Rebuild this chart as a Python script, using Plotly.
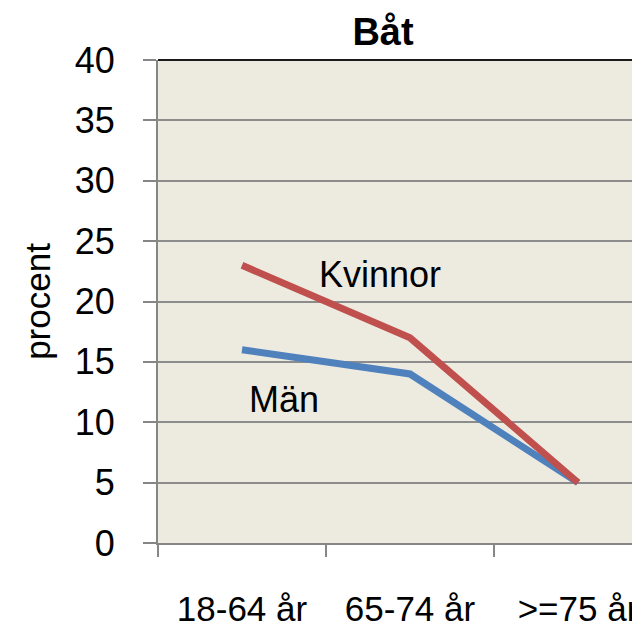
import plotly.graph_objects as go

# Data
kategorier = ["18-64 år", "65-74 år", ">=75 år"]
kvinnor = [23, 17, 5]
man = [16, 14, 5]
y_ticks = [0, 5, 10, 15, 20, 25, 30, 35, 40]

FONT = "Liberation Sans"

fig = go.Figure()
fig.add_trace(go.Scatter(x=kategorier, y=man, mode="lines", name="Män",
                         line=dict(color="#4F81BD", width=7), showlegend=False))
fig.add_trace(go.Scatter(x=kategorier, y=kvinnor, mode="lines", name="Kvinnor",
                         line=dict(color="#C0504D", width=7), showlegend=False))

# series labels inside the plot
fig.add_annotation(x=0.82, y=22.2, xref="x", yref="y", text="Kvinnor", showarrow=False,
                   font=dict(family=FONT, size=36, color="black"))
fig.add_annotation(x=0.25, y=11.9, xref="x", yref="y", text="Män", showarrow=False,
                   font=dict(family=FONT, size=36, color="black"))

# dark top border of the plot area
fig.add_shape(type="line", xref="paper", yref="paper", x0=0, x1=1, y0=1, y1=1,
              line=dict(color="#1a1a1a", width=2))

# page body has an 8px margin, so everything is shifted 8px up/left
fig.update_layout(
    width=640, height=619,
    margin=dict(l=150, r=8, t=52, b=84, autoexpand=False),
    paper_bgcolor="white",
    plot_bgcolor="#EDEAE0",
    font=dict(family=FONT, size=36, color="black"),
    title=dict(text="<b>Båt</b>", x=375 / 640, xref="container", xanchor="center",
               y=1 - 24 / 619, yref="container", yanchor="middle",
               font=dict(family=FONT, size=38, color="black")),
)

fig.update_xaxes(
    type="category", range=[-0.5, 2.369], automargin=False,
    showgrid=False, showline=True, linecolor="#868686", linewidth=2,
    ticks="outside", ticklen=12, tickcolor="#868686", tickwidth=2,
    tickson="boundaries", ticklabelstandoff=34,
    tickfont=dict(family=FONT, size=35),
)
fig.update_yaxes(
    range=[0, 40], tickvals=y_ticks, automargin=False,
    showgrid=True, gridcolor="#8C8C8C", gridwidth=1.5,
    showline=True, linecolor="#868686", linewidth=2,
    ticks="outside", ticklen=13, tickcolor="#868686", tickwidth=2,
    ticklabelstandoff=21, zeroline=False,
    tickfont=dict(family=FONT, size=36),
    title=dict(text="procent", standoff=14, font=dict(family=FONT, size=35)),
)

fig.write_html("out.html")
